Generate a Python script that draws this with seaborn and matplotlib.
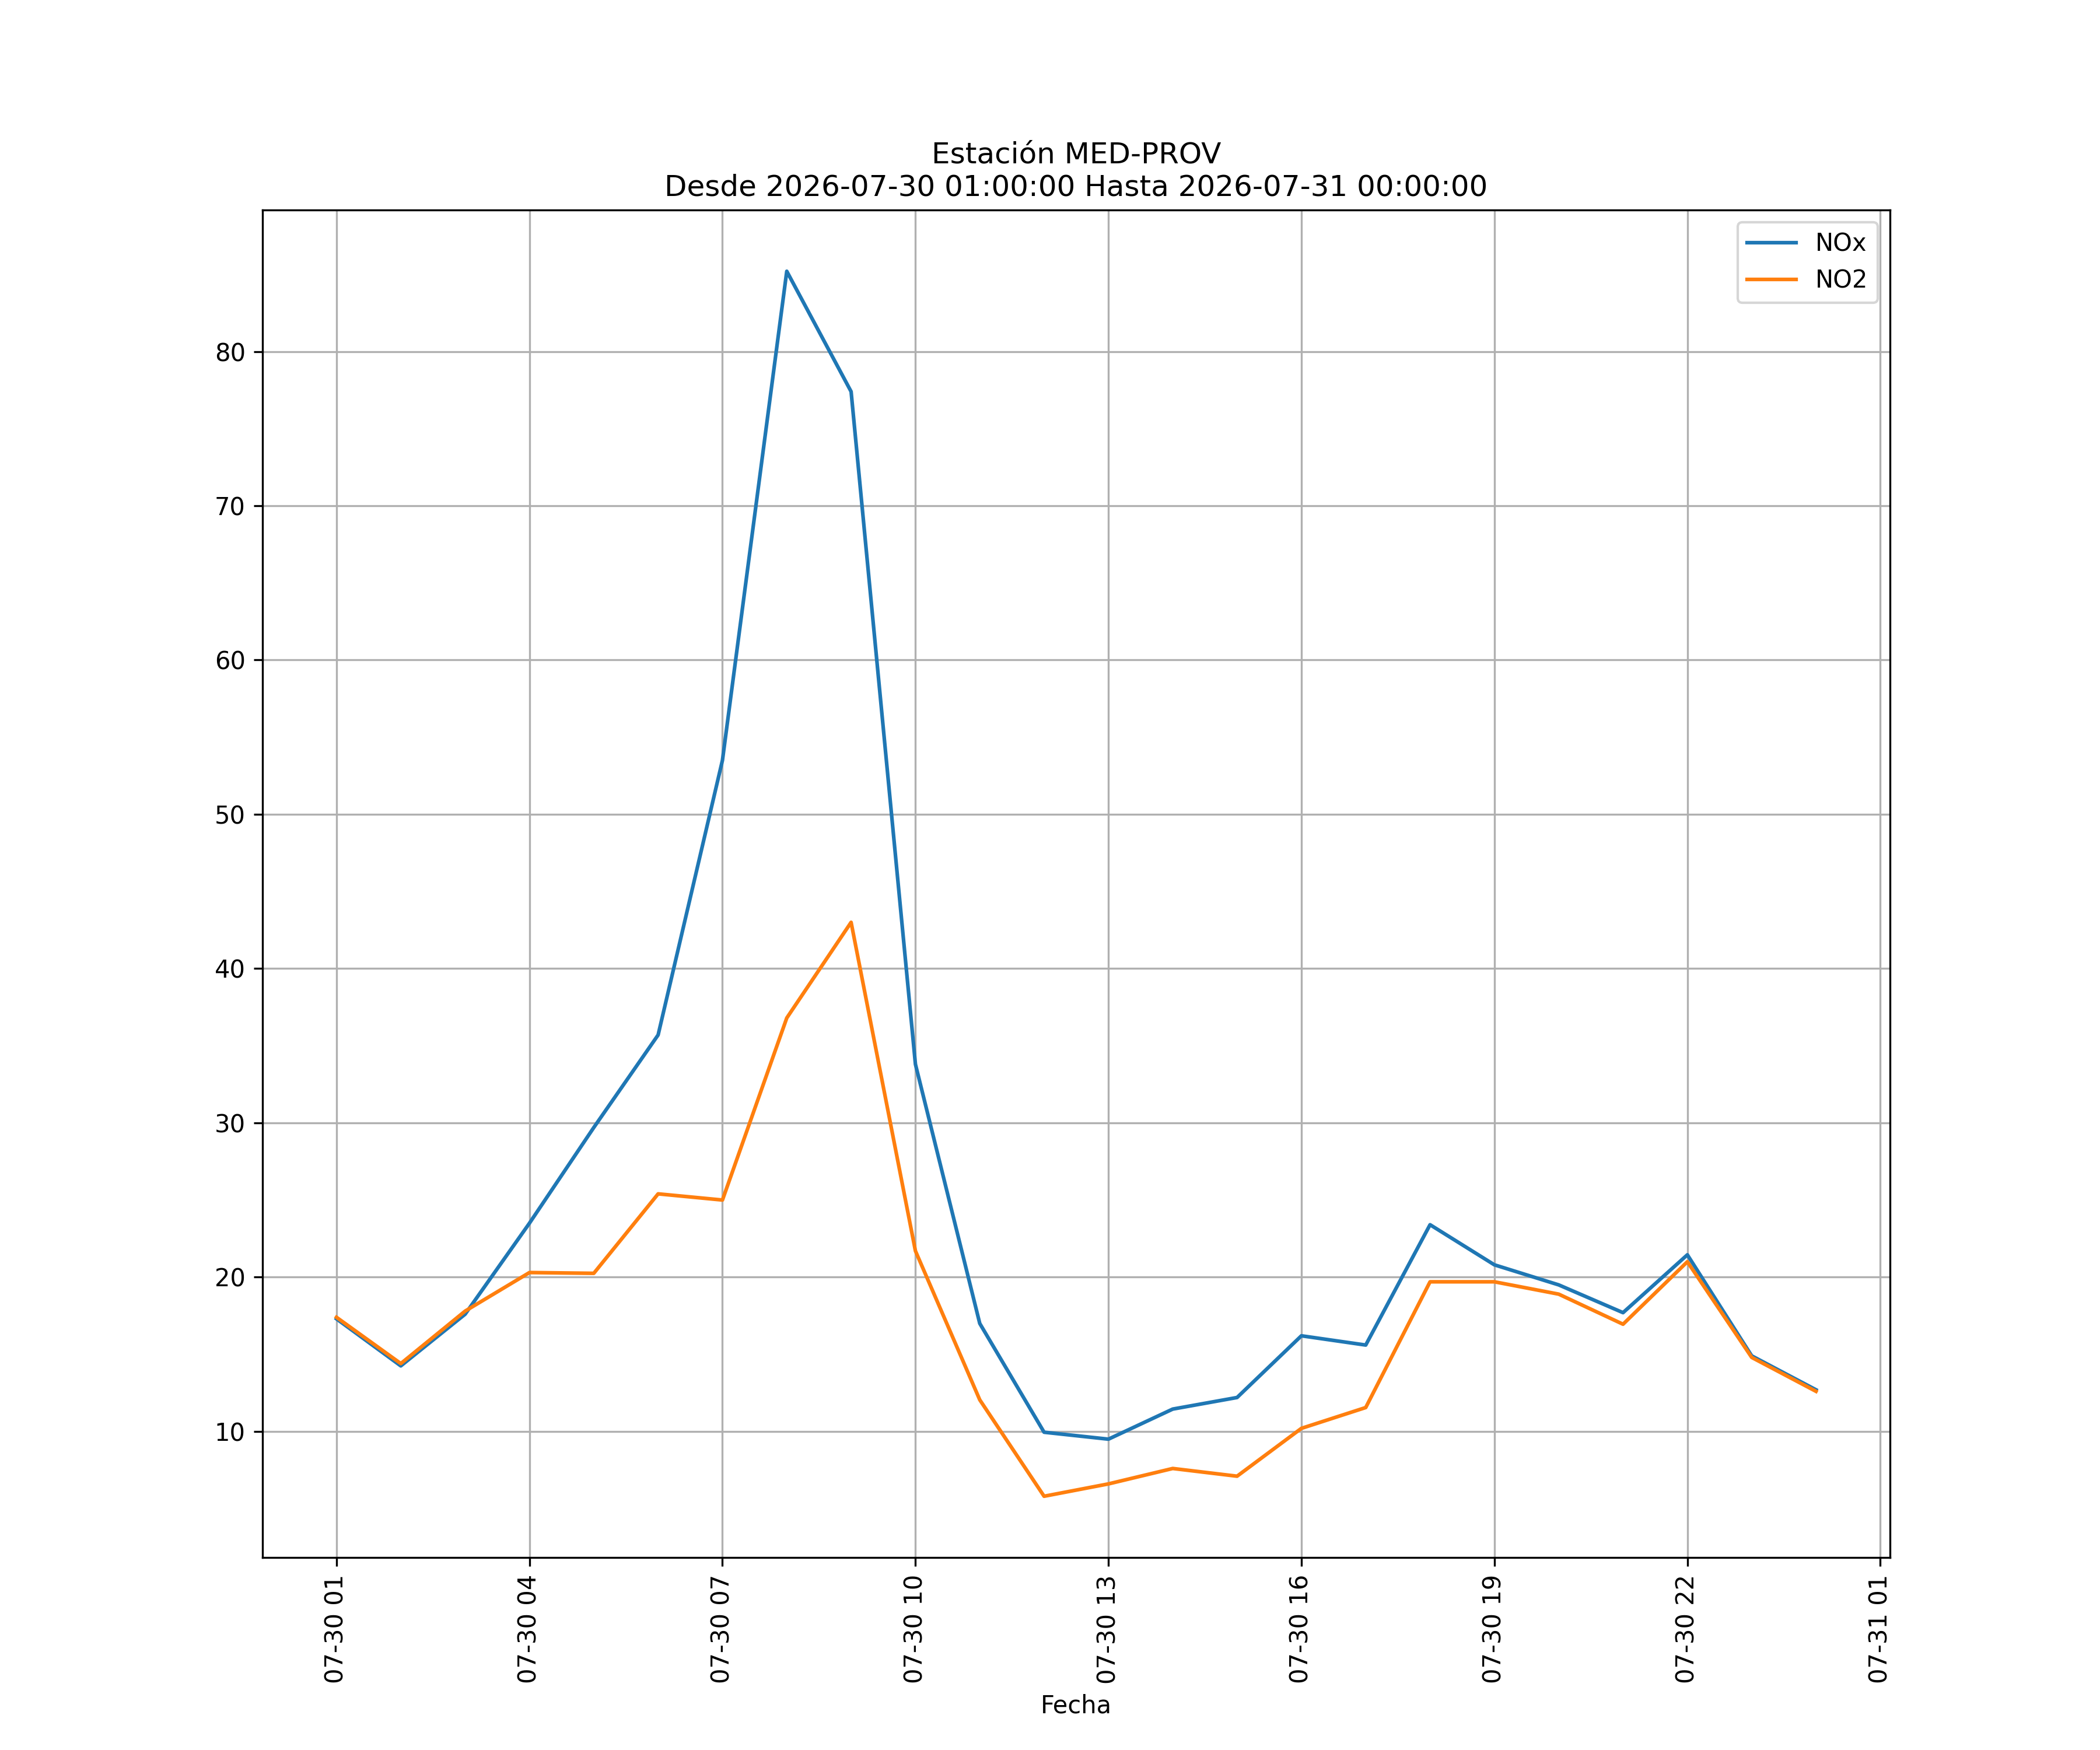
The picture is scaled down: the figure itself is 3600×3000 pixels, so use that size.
import matplotlib
matplotlib.use("Agg")
import matplotlib.pyplot as plt
import matplotlib.dates as mdates
import seaborn as sns
import pandas as pd
import numpy as np

fechas = pd.date_range("2026-07-30 01:00:00", "2026-07-31 00:00:00", freq="h")
nox = [17.3, 14.25, 17.6, 23.5, 29.7, 35.7, 53.5, 85.2, 77.4, 33.8, 17.0, 9.95,
       9.5, 11.45, 12.2, 16.2, 15.6, 23.4, 20.8, 19.5, 17.7, 21.45, 14.9, 12.7]
no2 = [17.4, 14.4, 17.8, 20.3, 20.25, 25.4, 25.0, 36.8, 43.0, 21.7, 12.05, 5.8,
       6.6, 7.6, 7.1, 10.2, 11.55, 19.7, 19.7, 18.9, 16.95, 21.0, 14.8, 12.6]

df = pd.DataFrame({"Fecha": fechas, "NOx": nox, "NO2": no2})

fig, ax = plt.subplots(figsize=(12, 10), dpi=300)
sns.lineplot(data=df, x="Fecha", y="NOx", label="NOx", ax=ax)
sns.lineplot(data=df, x="Fecha", y="NO2", label="NO2", ax=ax)
ax.set_ylabel("")
ax.set_xlabel("Fecha")
ax.set_title("Estación MED-PROV\nDesde 2026-07-30 01:00:00 Hasta 2026-07-31 00:00:00")
ax.xaxis.set_major_locator(mdates.HourLocator(byhour=[1, 4, 7, 10, 13, 16, 19, 22]))
ax.xaxis.set_major_formatter(mdates.DateFormatter("%m-%d %H"))
ax.grid(True)
ax.legend(loc="upper right")
plt.setp(ax.get_xticklabels(), rotation=90)
fig.savefig("out.png", dpi=300)
